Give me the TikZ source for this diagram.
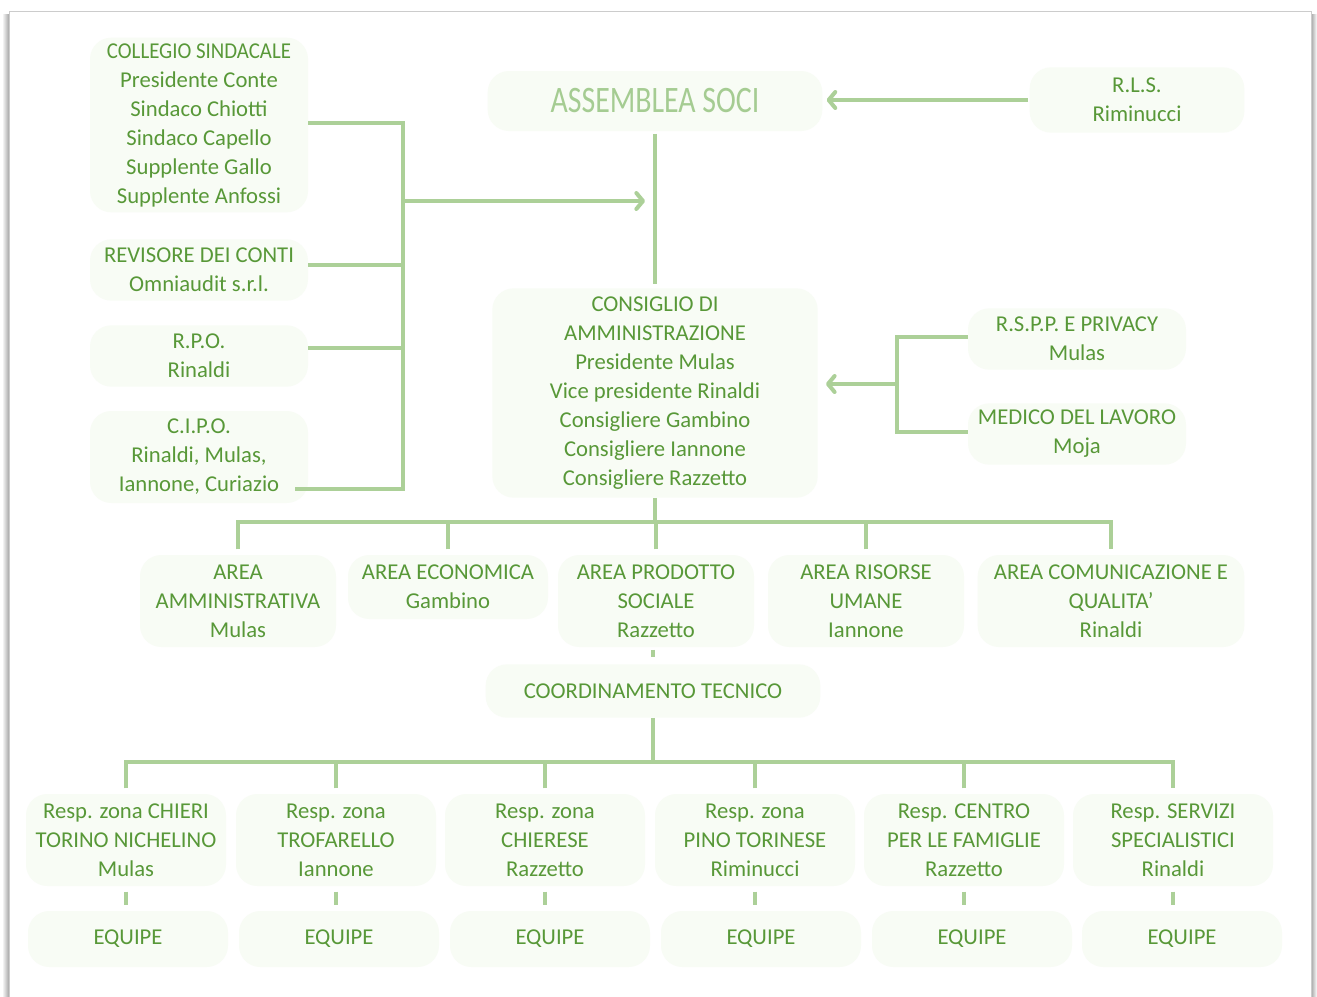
\documentclass[tikz,border=0pt]{standalone}
\usepackage{fontspec}
\setmainfont{Carlito}
\usetikzlibrary{arrows.meta}
\definecolor{txt}{RGB}{88,152,56}
\definecolor{lin}{RGB}{172,208,152}
\definecolor{asstxt}{RGB}{165,204,146}
\definecolor{boxfill}{RGB}{248,252,245}
\newcommand\mfnt{\fontsize{17}{21.75}\selectfont}
\begin{document}
\begin{tikzpicture}[x=0.75pt,y=-0.75pt,
  box/.style={fill=boxfill, rounded corners=16pt, align=center, text=txt, font=\mfnt, inner sep=0pt},
  conn/.style={draw=lin, line width=3pt},
  arr/.style={conn, -{Straight Barb[length=5pt,width=12pt,line width=3pt,round]}},
  shortlink/.style={draw=lin, line width=3pt, shorten <=4pt, shorten >=4pt}
]
\useasboundingbox (0,0) rectangle (1317,996);
\fill[white] (0,0) rectangle (1317,996);
% frame with shadow
\shade[left color=white, right color=black!35] (2,14) rectangle (9,1000);
\shade[left color=black!35, right color=white] (1311,14) rectangle (1317,1000);
\draw[black!20, line width=0.75pt] (9,11) rectangle (1311,1005);

% left column
\node[box, minimum width=163.5pt, minimum height=131pt] (coll) at (199,125)
  {\scalebox{0.92}[1]{COLLEGIO SINDACALE}\\Presidente Conte\\Sindaco Chiotti\\Sindaco Capello\\Supplente Gallo\\Supplente Anfossi};
\node[box, minimum width=163.5pt, minimum height=46pt] (rev) at (199,270)
  {REVISORE DEI CONTI\\Omniaudit s.r.l.};
\node[box, minimum width=163.5pt, minimum height=46pt] (rpo) at (199,356)
  {R.P.O.\\Rinaldi};
\node[box, minimum width=163.5pt, minimum height=69pt] (cipo) at (199,457)
  {C.I.P.O.\\Rinaldi, Mulas,\\Iannone, Curiazio};

% top
\node[box, minimum width=251pt, minimum height=45pt, text=asstxt, font=\fontsize{28}{30}\selectfont] (ass) at (655,101)
  {\scalebox{0.8}[1]{ASSEMBLEA SOCI}};
\node[box, minimum width=161pt, minimum height=49pt] (rls) at (1137,100)
  {R.L.S.\\Riminucci};

% consiglio
\node[box, minimum width=244pt, minimum height=157pt] (cons) at (655,393)
  {CONSIGLIO DI\\AMMINISTRAZIONE\\Presidente Mulas\\Vice presidente Rinaldi\\Consigliere Gambino\\Consigliere Iannone\\Consigliere Razzetto};
\node[box, minimum width=163.5pt, minimum height=46pt] (rspp) at (1077,339)
  {R.S.P.P. E PRIVACY\\Mulas};
\node[box, minimum width=163.5pt, minimum height=46pt] (med) at (1077,434)
  {MEDICO DEL LAVORO\\Moja};

% areas
\node[box, minimum width=147pt, minimum height=69pt] (a1) at (238,601)
  {AREA\\AMMINISTRATIVA\\Mulas};
\node[box, minimum width=150pt, minimum height=48pt] (a2) at (448,587)
  {AREA ECONOMICA\\Gambino};
\node[box, minimum width=147pt, minimum height=69pt] (a3) at (656,601)
  {AREA PRODOTTO\\SOCIALE\\Razzetto};
\node[box, minimum width=147pt, minimum height=69pt] (a4) at (866,601)
  {AREA RISORSE\\UMANE\\Iannone};
\node[box, minimum width=200pt, minimum height=69pt] (a5) at (1111,601)
  {AREA COMUNICAZIONE E\\QUALITA'\\Rinaldi};

\node[box, minimum width=251pt, minimum height=40pt] (coord) at (653,691)
  {COORDINAMENTO TECNICO};

% resp
\node[box, minimum width=150pt, minimum height=69pt] (r1) at (126,840)
  {Resp. zona CHIERI\\TORINO NICHELINO\\Mulas};
\node[box, minimum width=150pt, minimum height=69pt] (r2) at (336,840)
  {Resp. zona\\TROFARELLO\\Iannone};
\node[box, minimum width=150pt, minimum height=69pt] (r3) at (545,840)
  {Resp. zona\\CHIERESE\\Razzetto};
\node[box, minimum width=150pt, minimum height=69pt] (r4) at (755,840)
  {Resp. zona\\PINO TORINESE\\Riminucci};
\node[box, minimum width=150pt, minimum height=69pt] (r5) at (964,840)
  {Resp. CENTRO\\PER LE FAMIGLIE\\Razzetto};
\node[box, minimum width=150pt, minimum height=69pt] (r6) at (1173,840)
  {Resp. SERVIZI\\SPECIALISTICI\\Rinaldi};

% equipe
\foreach \i/\x in {1/128,2/339,3/550,4/761,5/972,6/1182}
  \node[box, minimum width=150pt, minimum height=42pt] (e\i) at (\x,939) {EQUIPE};

% ---- connectors ----
\coordinate (lbT) at (403,123);
\coordinate (lbB) at (403,489);
\coordinate (lbM) at (403,201);
\coordinate (cipoS) at (295,489);
\coordinate (arrEnd) at (645,201);
\draw[conn] (coll.east |- lbT) -- (lbT) -- (lbB) -- (cipoS);
\draw[conn] (rev.east |- 0,265) -- (lbT |- 0,265);
\draw[conn] (rpo.east |- 0,348) -- (lbT |- 0,348);
\draw[arr] (lbM) -- (arrEnd);

\draw[conn, shorten <=2pt, shorten >=3pt] (ass.south) -- (cons.north);
\draw[arr, shorten <=1pt, shorten >=3pt] (rls.west) -- (rls.west -| ass.east);

\coordinate (rbT) at (897,337);
\coordinate (rbB) at (897,432);
\coordinate (rbM) at (897,384);
\draw[conn] (rspp.west |- rbT) -- (rbT) -- (rbB) -- (med.west |- rbB);
\draw[arr, shorten >=6pt] (rbM) -- (rbM -| cons.east);

\coordinate (ab) at (655,522);
\draw[conn] (cons.south) -- (ab);
\draw[conn, shorten <=4pt] (a1.north) |- (ab);
\draw[conn, shorten >=4pt] (ab) -| (a5.north);
\foreach \n in {a2,a3,a4}
  \draw[conn, shorten <=4pt] (\n.north) -- (\n.north |- ab);
\draw[conn, line width=2.5pt, shorten <=2pt, shorten >=5pt] (coord.north |- a3.south) -- (coord.north);

\coordinate (rb) at (653,762);
\draw[conn] (coord.south) -- (rb);
\draw[conn, shorten <=4pt] (r1.north) |- (rb);
\draw[conn, shorten >=4pt] (rb) -| (r6.north);
\foreach \n in {r2,r3,r4,r5}
  \draw[conn, shorten <=4pt] (\n.north) -- (\n.north |- rb);
\foreach \i in {1,...,6}
  \draw[shortlink] (r\i.south) -- (r\i.south |- e\i.north);
\end{tikzpicture}
\end{document}
